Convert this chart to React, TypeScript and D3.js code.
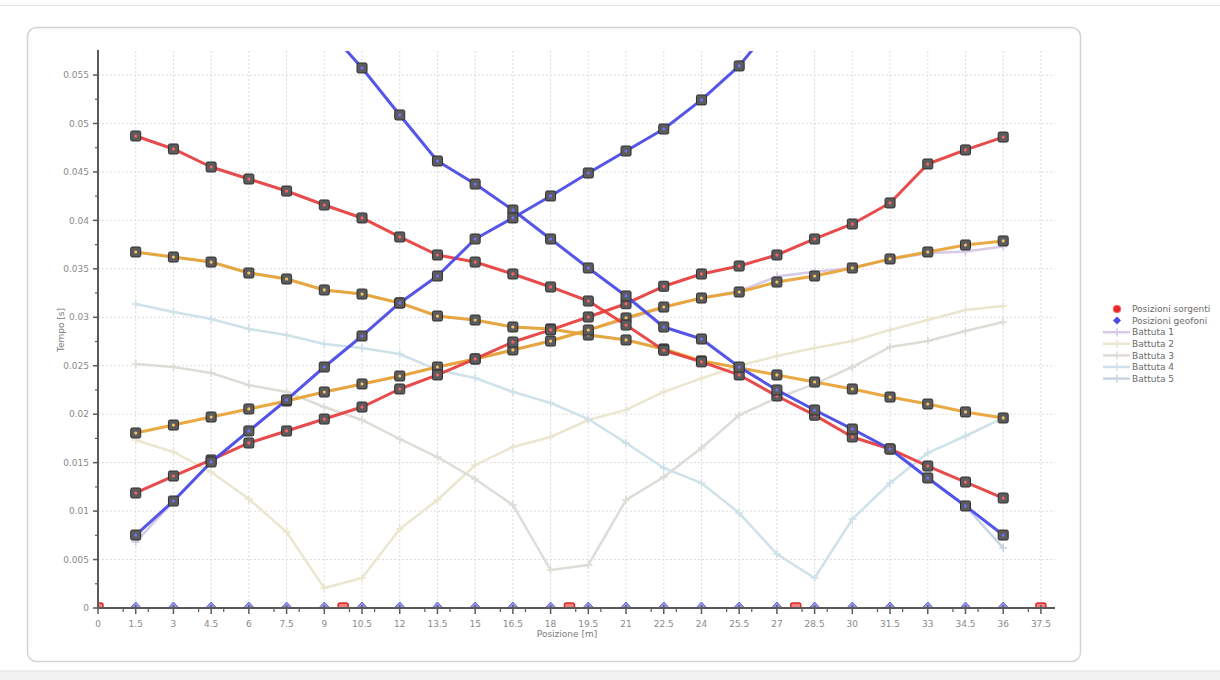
import React from "react";
import * as d3 from "d3";

// ---- data ----
const positions = [1.5, 3, 4.5, 6, 7.5, 9, 10.5, 12, 13.5, 15, 16.5, 18, 19.5, 21, 22.5, 24, 25.5, 27, 28.5, 30, 31.5, 33, 34.5, 36];
const sourcePositions = [0, 9.75, 18.75, 27.75, 37.5];
const xTicks = [0, 1.5, 3, 4.5, 6, 7.5, 9, 10.5, 12, 13.5, 15, 16.5, 18, 19.5, 21, 22.5, 24, 25.5, 27, 28.5, 30, 31.5, 33, 34.5, 36, 37.5];
const yTicks = [0, 0.005, 0.01, 0.015, 0.02, 0.025, 0.03, 0.035, 0.04, 0.045, 0.05, 0.055];

const battuta1 = [0.0068, 0.011, 0.015, 0.0183, 0.0214, 0.0223, 0.0231, 0.0239, 0.0249, 0.0257, 0.0266, 0.0276, 0.0287, 0.0298, 0.031, 0.032, 0.0327, 0.0342, 0.0347, 0.0351, 0.036, 0.0366, 0.0368, 0.0373];
const battuta2 = [0.01734, 0.0161, 0.01404, 0.01125, 0.00784, 0.00206, 0.0031, 0.00815, 0.01115, 0.01476, 0.01662, 0.01765, 0.0194, 0.02044, 0.0223, 0.0237, 0.025, 0.026, 0.02683, 0.02755, 0.0287, 0.02972, 0.03075, 0.03117];
const battuta3 = [0.02518, 0.02487, 0.02425, 0.023, 0.0223, 0.02074, 0.0194, 0.01744, 0.01558, 0.01331, 0.01063, 0.00392, 0.00444, 0.01115, 0.01352, 0.01651, 0.01992, 0.02167, 0.0231, 0.02487, 0.02694, 0.02756, 0.02859, 0.02952];
const battuta4 = [0.03137, 0.03055, 0.02982, 0.02879, 0.02817, 0.02724, 0.02683, 0.02621, 0.02456, 0.02373, 0.0223, 0.02116, 0.0195, 0.01703, 0.01445, 0.0129, 0.0098, 0.00557, 0.0031, 0.00918, 0.0129, 0.016, 0.01775, 0.01961];
const battuta5 = [0.0367, 0.0362, 0.0357, 0.0346, 0.034, 0.0328, 0.0324, 0.0315, 0.0301, 0.0297, 0.029, 0.0288, 0.0282, 0.0277, 0.0267, 0.0255, 0.0248, 0.0225, 0.0204, 0.0184, 0.0164, 0.0134, 0.0105, 0.0062];

const redDesc = [0.04871, 0.04737, 0.04551, 0.04427, 0.04303, 0.04159, 0.04025, 0.03829, 0.03643, 0.0357, 0.03447, 0.03313, 0.03168, 0.0292, 0.0266, 0.0254, 0.02405, 0.02188, 0.0199, 0.01765, 0.01641, 0.01465, 0.013, 0.01135];
const redAsc = [0.01187, 0.01362, 0.01528, 0.01703, 0.01827, 0.0195, 0.02074, 0.0226, 0.02405, 0.0257, 0.02745, 0.0287, 0.03003, 0.0314, 0.0332, 0.03447, 0.03529, 0.03643, 0.03808, 0.03963, 0.0418, 0.04582, 0.04727, 0.0486];
const orangeAsc = [0.01806, 0.01888, 0.01971, 0.02054, 0.02136, 0.02229, 0.02312, 0.02394, 0.02487, 0.0257, 0.02663, 0.02755, 0.02869, 0.02993, 0.03106, 0.03199, 0.03261, 0.03364, 0.03426, 0.03509, 0.03602, 0.03674, 0.03746, 0.03788];
const orangeDesc = [0.03674, 0.03622, 0.0357, 0.03457, 0.03395, 0.03282, 0.0324, 0.03148, 0.03013, 0.02972, 0.029, 0.0288, 0.02817, 0.02766, 0.02673, 0.0255, 0.0248, 0.02405, 0.02332, 0.0226, 0.02177, 0.02105, 0.02023, 0.01961];
const blueAscX = [1.5, 3, 4.5, 6, 7.5, 9, 10.5, 12, 13.5, 15, 16.5, 18, 19.5, 21, 22.5, 24, 25.5, 27];
const blueAsc = [0.00753, 0.01104, 0.01507, 0.01827, 0.02147, 0.02487, 0.02807, 0.03148, 0.03426, 0.03808, 0.04025, 0.04252, 0.04489, 0.04716, 0.04943, 0.05243, 0.05594, 0.0607];
const blueDescX = [9, 10.5, 12, 13.5, 15, 16.5, 18, 19.5, 21, 22.5, 24, 25.5, 27, 28.5, 30, 31.5, 33, 34.5, 36];
const blueDesc = [0.0601, 0.05573, 0.05088, 0.04613, 0.04375, 0.04107, 0.03808, 0.03509, 0.0322, 0.029, 0.02776, 0.02487, 0.0225, 0.02043, 0.01847, 0.01641, 0.01342, 0.01053, 0.00753];

const battutaNames = ["Battuta 1", "Battuta 2", "Battuta 3", "Battuta 4", "Battuta 5"];
const battutaColors = ["#d6cae6", "#ebe6d0", "#dddcd6", "#cfe1e9", "#c8d6e4"];

// ---- layout ----
const X0 = 98, X1 = 1055, Y0 = 608, Y1 = 51;
const x = d3.scaleLinear().domain([0, 38.06]).range([X0, X1]);
const y = d3.scaleLinear().domain([0, 0.05748]).range([Y0, Y1]);
const line = d3.line<[number, number]>().x(d => x(d[0])).y(d => y(d[1]));

const zip = (xs: number[], ys: number[]) => xs.map((v, i) => [v, ys[i]] as [number, number]);

function PaleSeries({ data, color }: { data: [number, number][]; color: string }) {
  return (
    <g>
      <path d={line(data) || ""} fill="none" stroke={color} strokeWidth={2.5} />
      {data.map((d, i) => (
        <g key={i} transform={`translate(${x(d[0])},${y(d[1])})`} stroke={color} strokeWidth={1.6}>
          <line x1={-4} x2={4} y1={0} y2={0} />
          <line x1={0} x2={0} y1={-4} y2={4} />
        </g>
      ))}
    </g>
  );
}

function BoldSeries({ data, color, dot }: { data: [number, number][]; color: string; dot: string }) {
  return (
    <g>
      <path d={line(data) || ""} fill="none" stroke={color} strokeWidth={3} strokeLinejoin="round" opacity={0.92} />
      {data.map((d, i) => (
        <g key={i} transform={`translate(${x(d[0])},${y(d[1])})`}>
          <rect x={-5} y={-5} width={10} height={10} rx={1.5} fill="#5c5c5c" stroke="#2e2e2e" strokeWidth={1} />
          <circle r={1.6} fill={dot} />
        </g>
      ))}
    </g>
  );
}

export default function App() {
  const fmtY = (v: number) => (v === 0 ? "0" : String(+v.toFixed(3)));
  const minorX = d3.range(1, 38).filter(v => Math.abs(v / 1.5 - Math.round(v / 1.5)) > 1e-6);
  const minorY = d3.range(0.0025, 0.0575, 0.005);
  const battute = [battuta1, battuta2, battuta3, battuta4, battuta5];
  const legendY0 = 309;
  const legendStep = 11.6;
  return (
    <svg width={1220} height={680} style={{ position: "absolute", left: 0, top: 0, fontFamily: "'DejaVu Sans', Verdana, sans-serif" }}>
      <rect x={0} y={0} width={1220} height={680} fill="#ffffff" />
      <line x1={0} x2={1220} y1={5.5} y2={5.5} stroke="#e2e2e2" />
      <rect x={0} y={671} width={1220} height={9} fill="#f2f2f2" />
      <line x1={0} x2={1220} y1={671} y2={671} stroke="#dddddd" />
      <rect x={27.5} y={27.5} width={1053} height={634} rx={9} fill="#ffffff" stroke="#d4d4d4" strokeWidth={1.5} />

      <defs>
        <clipPath id="plotClip">
          <rect x={X0} y={Y1} width={X1 - X0} height={Y0 - Y1} />
        </clipPath>
      </defs>

      {/* grid */}
      <g stroke="#dcdcdc" strokeWidth={1} strokeDasharray="2,2">
        {yTicks.filter(v => v > 0).map(v => (
          <line key={"gy" + v} x1={X0} x2={X1} y1={y(v)} y2={y(v)} />
        ))}
        {xTicks.filter(v => v > 0).map(v => (
          <line key={"gx" + v} x1={x(v)} x2={x(v)} y1={Y1} y2={Y0} />
        ))}
      </g>

      {/* series */}
      <g clipPath="url(#plotClip)">
        {battute.map((b, i) => (
          <PaleSeries key={i} data={zip(positions, b)} color={battutaColors[i]} />
        ))}
        <BoldSeries data={zip(positions, orangeDesc)} color="#e8a232" dot="#f5c060" />
        <BoldSeries data={zip(positions, orangeAsc)} color="#e8a232" dot="#f5c060" />
        <BoldSeries data={zip(positions, redDesc)} color="#e63c3c" dot="#ff6060" />
        <BoldSeries data={zip(positions, redAsc)} color="#e63c3c" dot="#ff6060" />
        <BoldSeries data={zip(blueDescX, blueDesc)} color="#4646e6" dot="#7070ff" />
        <BoldSeries data={zip(blueAscX, blueAsc)} color="#4646e6" dot="#7070ff" />
        {positions.map(p => (
          <path key={"g" + p} d="M0,-6 L5.5,0 L0,6 L-5.5,0 Z" transform={`translate(${x(p)},${y(0)})`} fill="#9898ec" stroke="#6464dc" strokeWidth={1} />
        ))}
        {sourcePositions.map(p => (
          <rect key={"s" + p} x={x(p) - 5} y={y(0) - 5} width={10} height={10} rx={2} fill="#f28080" stroke="#d82828" strokeWidth={1.5} />
        ))}
      </g>

      {/* y axis */}
      <line x1={X0} x2={X0} y1={Y1 - 1} y2={Y0} stroke="#5a5a5a" strokeWidth={2} />
      {yTicks.map(v => (
        <g key={"yt" + v}>
          <line x1={X0 - 5} x2={X0} y1={y(v)} y2={y(v)} stroke="#5a5a5a" strokeWidth={1.5} />
          <text x={X0 - 9} y={y(v)} dy="0.35em" textAnchor="end" fontSize={9} fill="#8a8a8a">{fmtY(v)}</text>
        </g>
      ))}
      {minorY.map(v => (
        <line key={"ym" + v} x1={X0 - 3} x2={X0} y1={y(v)} y2={y(v)} stroke="#5a5a5a" strokeWidth={1.2} />
      ))}

      {/* x axis */}
      <line x1={X0} x2={X1} y1={Y0} y2={Y0} stroke="#5a5a5a" strokeWidth={2} />
      {xTicks.map(v => (
        <g key={"xt" + v}>
          <line x1={x(v)} x2={x(v)} y1={Y0 - 3} y2={Y0 + 6} stroke="#5a5a5a" strokeWidth={1.5} />
          <text x={x(v)} y={Y0 + 19} textAnchor="middle" fontSize={9} fill="#8a8a8a">{String(v)}</text>
        </g>
      ))}
      {minorX.map(v => (
        <line key={"xm" + v} x1={x(v)} x2={x(v)} y1={Y0} y2={Y0 + 4} stroke="#5a5a5a" strokeWidth={1.2} />
      ))}

      <text x={567} y={637} textAnchor="middle" fontSize={9} fill="#7a7a7a">Posizione [m]</text>
      <text transform="translate(64,330) rotate(-90)" textAnchor="middle" fontSize={9} fill="#7a7a7a">Tempo [s]</text>

      {/* legend */}
      <g fontSize={9} fill="#6a6a6a">
        <circle cx={1117} cy={legendY0} r={3.8} fill="#e82828" stroke="#f07070" strokeWidth={1} />
        <text x={1132} y={legendY0} dy="0.35em">Posizioni sorgenti</text>
        <path d="M0,-4 L4,0 L0,4 L-4,0 Z" transform={`translate(1117,${legendY0 + legendStep})`} fill="#4a4ae6" />
        <text x={1132} y={legendY0 + legendStep} dy="0.35em">Posizioni geofoni</text>
        {battutaNames.map((n, i) => {
          const ly = legendY0 + legendStep * (i + 2);
          return (
            <g key={n}>
              <line x1={1103} x2={1130} y1={ly} y2={ly} stroke={battutaColors[i]} strokeWidth={2.5} />
              <line x1={1113} x2={1121} y1={ly} y2={ly} stroke={battutaColors[i]} strokeWidth={1.6} />
              <line x1={1117} x2={1117} y1={ly - 4} y2={ly + 4} stroke={battutaColors[i]} strokeWidth={1.6} />
              <text x={1132} y={ly} dy="0.35em">{n}</text>
            </g>
          );
        })}
      </g>
    </svg>
  );
}
